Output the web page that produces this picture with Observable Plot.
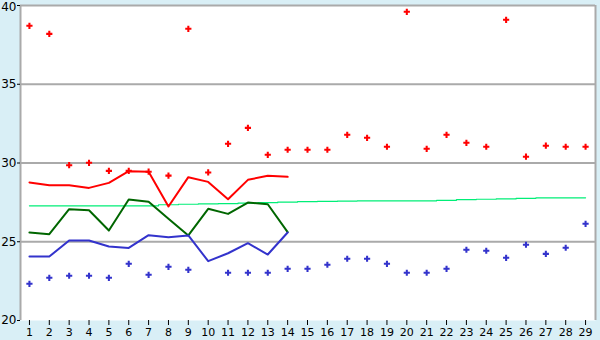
<!DOCTYPE html>
<html>
<head>
<meta charset="utf-8">
<script src="https://cdn.jsdelivr.net/npm/d3@7"></script>
<script src="https://cdn.jsdelivr.net/npm/@observablehq/plot@0.6"></script>
<style>
html, body { margin: 0; padding: 0; background: #d9eff6; }
#chart svg { display: block; }
</style>
</head>
<body>
<div id="chart"></div>
<script>
const days = d3.range(1, 30);
const redPoints = [38.71, 38.2, 29.86, 30.01, 29.5, 29.5, 29.45, 29.2, 38.52, 29.4, 31.22, 32.23, 30.52, 30.84, 30.84, 30.84, 31.79, 31.6, 31.03, 39.6, 30.9, 31.79, 31.28, 31.03, 39.09, 30.4, 31.1, 31.03, 31.03];
const bluePoints = [22.33, 22.71, 22.84, 22.84, 22.71, 23.6, 22.9, 23.41, 23.22, null, 23.03, 23.03, 23.03, 23.28, 23.28, 23.54, 23.92, 23.92, 23.6, 23.03, 23.03, 23.28, 24.49, 24.43, 23.98, 24.81, 24.23, 24.62, 26.14];
const redLine = [28.76, 28.59, 28.59, 28.42, 28.74, 29.48, 29.44, 27.24, 29.1, 28.8, 27.7, 28.93, 29.19, 29.12];
const greenLine = [25.59, 25.48, 27.07, 27.0, 25.71, 27.68, 27.54, 26.46, 25.4, 27.09, 26.77, 27.49, 27.38, 25.61];
const blueLine = [24.06, 24.06, 25.08, 25.08, 24.7, 24.61, 25.42, 25.29, 25.4, 23.77, 24.27, 24.91, 24.19, 25.59];
const trendLine = [27.28, 27.28, 27.28, 27.28, 27.28, 27.28, 27.28, 27.35, 27.38, 27.4, 27.42, 27.45, 27.48, 27.52, 27.55, 27.56, 27.58, 27.6, 27.6, 27.6, 27.6, 27.63, 27.68, 27.7, 27.72, 27.76, 27.78, 27.79, 27.79];
const yTicks = [20, 25, 30, 35, 40];

const pts = (arr) => arr.map((v, i) => ({x: i + 1, y: v})).filter(d => d.y != null);

const chart = Plot.plot({
  width: 600,
  height: 340,
  marginLeft: 20,
  marginTop: 5,
  marginRight: 5,
  marginBottom: 20,
  style: {background: "transparent", fontFamily: "DejaVu Sans", fontSize: "11px", color: "black", overflow: "visible"},
  x: {domain: [0.55, 29.5]},
  y: {domain: [20, 40]},
  marks: [
    Plot.frame({fill: "white", stroke: null}),
    Plot.ruleY([25, 30, 35, 40], {stroke: "#aaaaaa", strokeWidth: 2}),
    Plot.ruleX([29.5], {stroke: "#aaaaaa", strokeWidth: 2}),
    Plot.ruleX([0.55], {stroke: "#aaaaaa", strokeWidth: 2}),
    Plot.line(pts(trendLine), {x: "x", y: "y", stroke: "#00ee77", strokeWidth: 1.2, curve: "step"}),
    Plot.line(pts(redLine), {x: "x", y: "y", stroke: "#ff0000", strokeWidth: 2}),
    Plot.line(pts(greenLine), {x: "x", y: "y", stroke: "#006600", strokeWidth: 2}),
    Plot.line(pts(blueLine), {x: "x", y: "y", stroke: "#3333cc", strokeWidth: 2}),
    Plot.dot(pts(redPoints), {x: "x", y: "y", symbol: "cross", fill: "#ff0000", r: 2.6}),
    Plot.dot(pts(bluePoints), {x: "x", y: "y", symbol: "cross", fill: "#3333cc", r: 2.6}),
    Plot.axisY({ticks: yTicks, tickSize: 3, label: null, stroke: "black", text: null}),
    Plot.axisY({ticks: [20, 25, 30, 35], tickSize: 0, label: null, tickPadding: 4, fontSize: 12}),
    Plot.axisY({ticks: [40], tickSize: 0, label: null, tickPadding: 4, fontSize: 12, dy: 2}),
    Plot.axisX({ticks: days, tickSize: 5, label: null, stroke: "black", tickPadding: 3, fontSize: 11})
  ]
});
document.getElementById("chart").appendChild(chart);
</script>
</body>
</html>
